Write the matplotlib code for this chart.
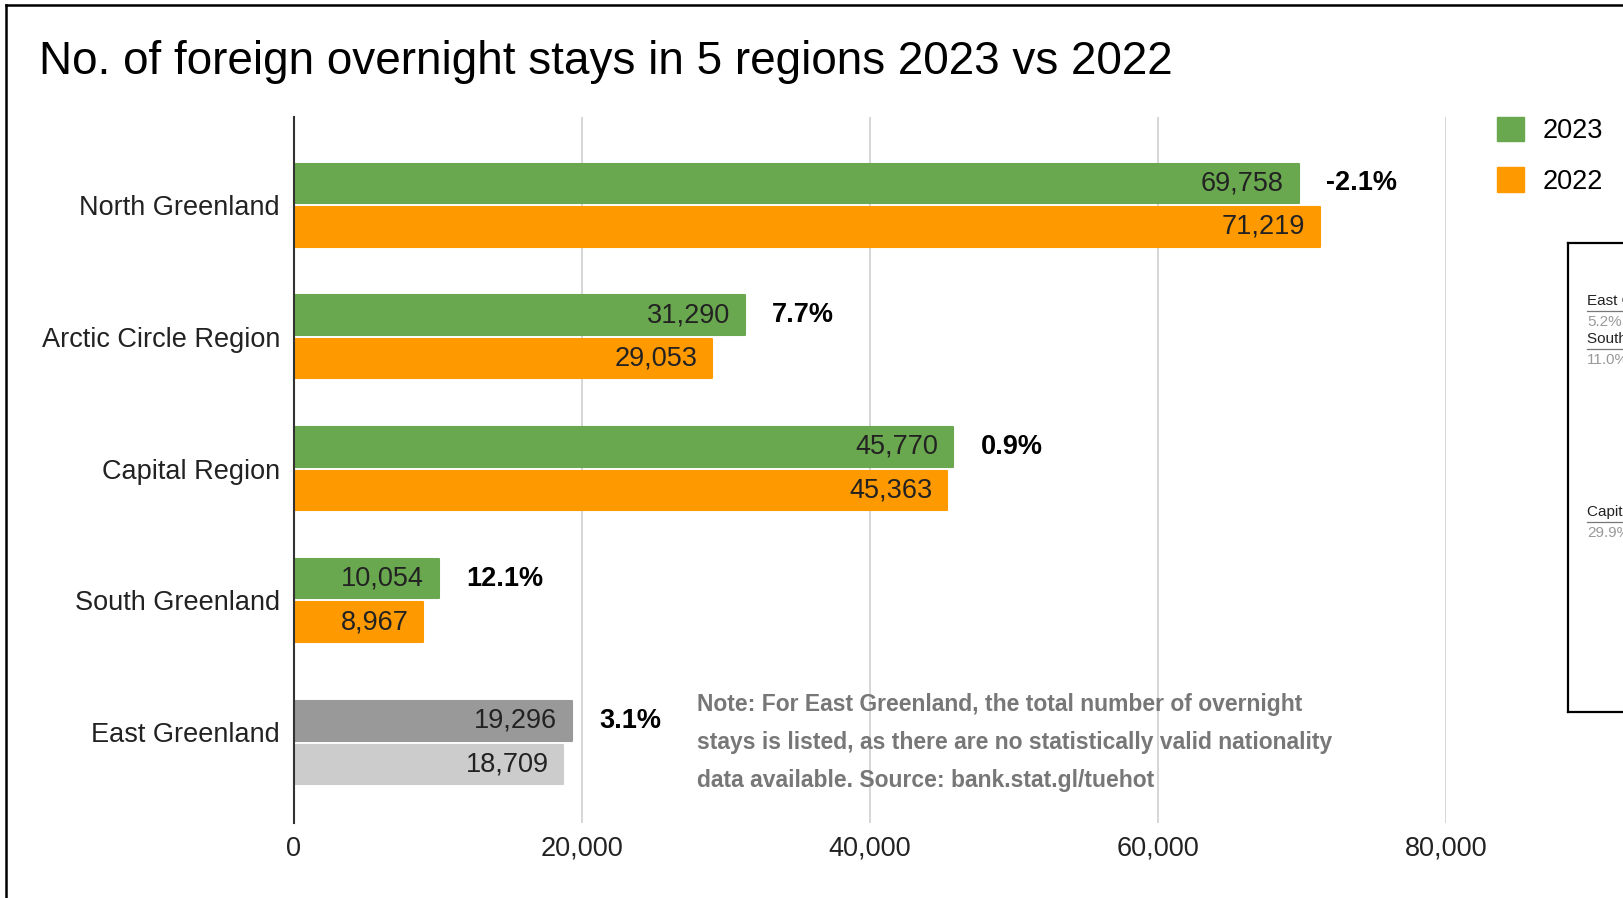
import matplotlib
matplotlib.use('Agg')
import matplotlib.pyplot as plt
from matplotlib.lines import Line2D
from matplotlib.patches import Patch
import numpy as np

plt.rcParams['font.family'] = ['Liberation Sans', 'DejaVu Sans']

# Overnight stays by region
regions = ['North Greenland', 'Arctic Circle Region', 'Capital Region',
           'South Greenland', 'East Greenland']
stays_2023 = [69758, 31290, 45770, 10054, 19296]
stays_2022 = [71219, 29053, 45363, 8967, 18709]
x_ticks = [0, 20000, 40000, 60000, 80000]

# share labels of the neighbouring pie panel
share_labels = ['East Greenland', 'South Greenland', 'Capital Region']
share_pct = ['5.2%', '11.0%', '29.9%']

note_lines = [
    'Note: For East Greenland, the total number of overnight',
    'stays is listed, as there are no statistically valid nationality',
    'data available. Source: bank.stat.gl/tuehot',
]

GREEN = '#6aa84f'
ORANGE = '#ff9900'
DARK_GREY = '#999999'
LIGHT_GREY = '#cccccc'
TXT = '#222222'

W, H = 1624, 898
fig = plt.figure(figsize=(W / 100, H / 100), dpi=100)
ax = fig.add_axes([294 / W, 1 - 823 / H, (1446 - 294) / W, (823 - 117) / H])

y = np.arange(len(regions), dtype=float)
shift = np.zeros(len(regions))
shift[-1] = 0.08  # East Greenland pair sits slightly lower
off, h = 0.165, 0.30

c23 = [GREEN] * 4 + [DARK_GREY]
c22 = [ORANGE] * 4 + [LIGHT_GREY]
ax.barh(y + shift - off, stays_2023, height=h, color=c23, edgecolor=c23,
        linewidth=1.5, joinstyle='round', zorder=2)
ax.barh(y + shift + off, stays_2022, height=h, color=c22, edgecolor=c22,
        linewidth=1.5, joinstyle='round', zorder=2)

for i in range(len(regions)):
    a, b = stays_2023[i], stays_2022[i]
    ax.annotate(f'{a:,}', (a, y[i] + shift[i] - off), xytext=(-10.5, 0),
                textcoords='offset points', ha='right', va='center',
                fontsize=19.5, color=TXT, zorder=3)
    ax.annotate(f'{b:,}', (b, y[i] + shift[i] + off), xytext=(-10.5, 0),
                textcoords='offset points', ha='right', va='center',
                fontsize=19.5, color=TXT, zorder=3)
    pct = (a - b) / b * 100
    ax.annotate(f'{pct:.1f}%', (a, y[i] + shift[i] - off), xytext=(20, 0),
                textcoords='offset points', ha='left', va='center',
                fontsize=19.5, fontweight='bold', color='black', zorder=3)

ax.set_xlim(0, 80000)
ax.set_ylim(4.69, -0.668)
ax.set_xticks(x_ticks)
ax.set_xticklabels([f'{t:,}' for t in x_ticks])
ax.set_yticks(y)
ax.set_yticklabels(regions)
ax.tick_params(axis='both', length=0, labelsize=19.5, labelcolor=TXT)
ax.tick_params(axis='x', pad=9)
ax.tick_params(axis='y', pad=10)
ax.xaxis.grid(True, color=LIGHT_GREY, linewidth=1.1)
ax.set_axisbelow(True)
for s in ['top', 'right', 'bottom']:
    ax.spines[s].set_visible(False)
ax.spines['left'].set_color('#333333')
ax.spines['left'].set_linewidth(1.5)
ax.spines['left'].set_zorder(4)

ax.legend(handles=[Patch(color=GREEN, label='2023'), Patch(color=ORANGE, label='2022')],
          loc='upper left', bbox_to_anchor=(1497 / W, 1 - 117 / H),
          bbox_transform=fig.transFigure, frameon=False, fontsize=19.5,
          handlelength=1.0, handleheight=1.0, handletextpad=0.7,
          labelspacing=0.85, borderpad=0, borderaxespad=0)

fig.text(39 / W, 1 - 62 / H, 'No. of foreign overnight stays in 5 regions 2023 vs 2022',
         fontsize=33, va='center', ha='left', color='black')

for k, line in enumerate(note_lines):
    fig.text(697 / W, 1 - (705 + 37.5 * k) / H, line, fontsize=16.5,
             fontweight='bold', color='#777777', va='center', ha='left')

# outer frame (left and top edges)
fig.add_artist(Line2D([6 / W, 6 / W], [0, 1 - 5 / H], color='black', lw=1.8,
                      transform=fig.transFigure))
fig.add_artist(Line2D([6 / W, 1], [1 - 5 / H, 1 - 5 / H], color='black', lw=1.8,
                      transform=fig.transFigure))

# neighbouring pie panel box, running off the right edge
bx, bt, bb = 1568, 243, 712
for xs, ys in [([bx, bx], [bt, bb]), ([bx, W], [bt, bt]), ([bx, W], [bb, bb])]:
    fig.add_artist(Line2D([v / W for v in xs], [1 - v / H for v in ys],
                          color='black', lw=1.6, transform=fig.transFigure))

share_y = [301, 339, 512]
for lab, pct, yy in zip(share_labels, share_pct, share_y):
    fig.text(1587 / W, 1 - yy / H, lab, fontsize=11, color=TXT, va='center', ha='left')
    fig.add_artist(Line2D([1587 / W, 1], [1 - (yy + 10) / H] * 2, color='#777777',
                          lw=0.9, transform=fig.transFigure))
    fig.text(1587 / W, 1 - (yy + 21) / H, pct, fontsize=11, color='#999999',
             va='center', ha='left')

fig.savefig('out.png', dpi=100)
